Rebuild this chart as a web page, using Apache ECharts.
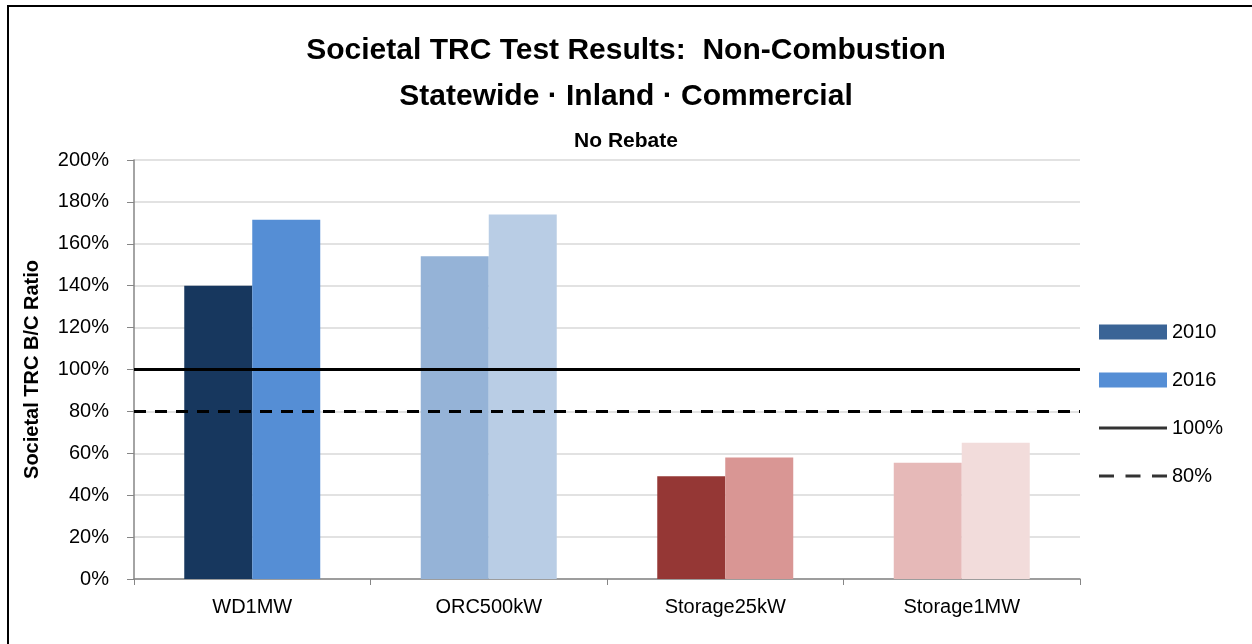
<!DOCTYPE html>
<html>
<head>
<meta charset="utf-8">
<script src="https://cdn.jsdelivr.net/npm/echarts@6/dist/echarts.min.js"></script>
<style>
  html, body { margin: 0; padding: 0; background: #fff; overflow: hidden; }
  #frame { position: absolute; left: 7px; top: 5px; width: 1270px; height: 670px; border: 2px solid #000; box-sizing: border-box; pointer-events: none; }
  #chart { width: 1252px; height: 644px; }
</style>
</head>
<body>
<div id="chart"></div>
<div id="frame"></div>
<script>
var categories = ['WD1MW', 'ORC500kW', 'Storage25kW', 'Storage1MW']
var values2010 = [140, 154, 49, 55.5]
var values2016 = [171.5, 174, 58, 65]
var colors2010 = ['#17375E', '#95B3D7', '#953735', '#E6B9B8']
var colors2016 = ['#558ED5', '#B9CDE5', '#D99694', '#F2DCDB']
var yTicks = [0, 20, 40, 60, 80, 100, 120, 140, 160, 180, 200]

var font = 'Liberation Sans, Arial, sans-serif'
var myChart = echarts.init(document.getElementById('chart'))

function withColors (values, colors) {
  return values.map(function (v, i) {
    return { value: v, itemStyle: { color: colors[i] } }
  })
}

var legendText = { fontFamily: font, fontSize: 20, color: '#000' }

var option = {
  animation: false,
  title: [
    { text: 'Societal TRC Test Results:  Non-Combustion', left: 'center', top: 31,
      textStyle: { fontFamily: font, fontSize: 30, fontWeight: 'bold', color: '#000' } },
    { text: 'Statewide · Inland · Commercial', left: 'center', top: 77,
      textStyle: { fontFamily: font, fontSize: 30, fontWeight: 'bold', color: '#000' } },
    { text: 'No Rebate', left: 'center', top: 126,
      textStyle: { fontFamily: font, fontSize: 21, fontWeight: 'bold', color: '#000' } }
  ],
  grid: { left: 134, right: 172, top: 160, bottom: 65 },
  legend: [
    {
      orient: 'vertical', left: 1094, top: 317, itemGap: 28,
      itemWidth: 68, itemHeight: 15, icon: 'rect',
      textStyle: legendText,
      data: [
        { name: '2010', itemStyle: { color: '#3A6496' } },
        { name: '2016', itemStyle: { color: '#558ED5' } }
      ]
    },
    {
      left: 1094, top: 413, itemWidth: 68, itemHeight: 3, icon: 'rect',
      textStyle: legendText,
      data: [{ name: '100%', itemStyle: { color: '#000' } }]
    },
    {
      left: 1094, top: 461, itemWidth: 68, itemHeight: 3,
      icon: 'path://M0,0h15v3h-15zM26.5,0h15v3h-15zM53,0h15v3h-15z',
      textStyle: legendText,
      data: [{ name: '80%', itemStyle: { color: '#000' } }]
    }
  ],
  xAxis: {
    type: 'category',
    data: categories,
    axisLine: { lineStyle: { color: '#868686', width: 1.5 } },
    axisTick: { show: true, length: 6, lineStyle: { color: '#868686' } },
    axisLabel: { fontFamily: font, fontSize: 20, color: '#000', margin: 18 }
  },
  yAxis: {
    type: 'value',
    min: 0,
    max: 200,
    interval: 20,
    name: 'Societal TRC B/C Ratio',
    nameLocation: 'middle',
    nameGap: 92,
    nameTextStyle: { fontFamily: font, fontSize: 20, fontWeight: 'bold', color: '#000' },
    axisLine: { show: true, lineStyle: { color: '#868686', width: 1.5 } },
    axisTick: { show: true, length: 7, lineStyle: { color: '#868686' } },
    splitLine: { lineStyle: { color: '#D9D9D9', width: 1.5 } },
    axisLabel: {
      fontFamily: font, fontSize: 20, color: '#000', margin: 25,
      formatter: function (v) { return yTicks.indexOf(v) >= 0 ? v + '%' : '' }
    }
  },
  series: [
    {
      name: '2010', type: 'bar', barGap: '0%', barCategoryGap: '42.5%',
      itemStyle: { color: '#3A6496' },
      data: withColors(values2010, colors2010)
    },
    {
      name: '2016', type: 'bar',
      itemStyle: { color: '#558ED5' },
      data: withColors(values2016, colors2016)
    },
    {
      name: '100%', type: 'scatter', data: [],
      itemStyle: { color: '#000' },
      markLine: {
        silent: true, symbol: 'none', label: { show: false },
        lineStyle: { color: '#000', width: 3, type: 'solid' },
        data: [{ yAxis: 100 }]
      }
    },
    {
      name: '80%', type: 'scatter', data: [],
      itemStyle: { color: '#000' },
      markLine: {
        silent: true, symbol: 'none', label: { show: false },
        lineStyle: { color: '#000', width: 3, type: [12, 9] },
        data: [{ yAxis: 80 }]
      }
    }
  ]
}

myChart.setOption(option)
</script>
</body>
</html>
